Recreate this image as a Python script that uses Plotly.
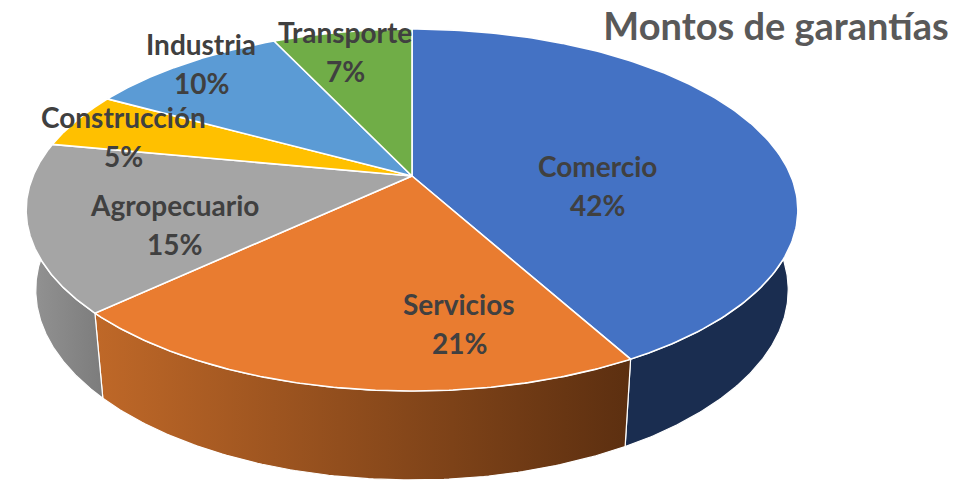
import numpy as np
import plotly.graph_objects as go

# ---- data ----
categories = ["Comercio", "Servicios", "Agropecuario", "Construcción", "Industria", "Transporte"]
shares = [42, 21, 15, 5, 10, 7]
title_text = "Montos de garantías"

# ---- styles ----
top_colors = ["#4472C4", "#E97C30", "#A5A5A5", "#FFC000", "#5B9BD5", "#70AD47"]
side_fill = {
    "Comercio": ("#1A2D50", "#1A2D50"),
    "Servicios": ("#BF6828", "#5C2F10"),
    "Agropecuario": ("#949494", "#7C7C7C"),
}
label_xy = {
    "Comercio": (597, 166), "Servicios": (459, 304), "Agropecuario": (174, 205),
    "Construcción": (123, 117), "Industria": (201, 44), "Transporte": (345, 32),
}
LINE_GAP = 39
FONT = "Lato, Carlito, Calibri, sans-serif"
CX, CY, BX, AY, K = 412, 176, 379, 174.6, -0.188


def top_ring(t):
    u, v = np.sin(t), -np.cos(t)
    d = 1 + K * v
    return CX + BX * u / d, CY + AY * v / d


def bottom_ring(t):
    x, y = top_ring(t)
    return CX + 0.975 * (x - CX), 1.05 * y + 69.4


fig = go.Figure()
fractions = np.cumsum([0] + shares) / sum(shares) * 2 * np.pi
spans = list(zip(fractions[:-1], fractions[1:]))
vis_lo, vis_hi = np.radians(90), np.radians(270)

for name, (a, b) in zip(categories, spans):
    if name not in side_fill:
        continue
    t = np.linspace(max(a, vis_lo), min(b, vis_hi), 120)
    xt, yt = top_ring(t)
    xb, yb = bottom_ring(t[::-1])
    c0, c1 = side_fill[name]
    fig.add_trace(go.Scatter(
        x=np.r_[xt, xb, xt[0]], y=np.r_[yt, yb, yt[0]],
        mode="lines", fill="toself", line=dict(color="white", width=1.2),
        fillgradient=dict(type="horizontal", colorscale=[[0, c0], [1, c1]]),
        hoverinfo="skip", showlegend=False,
    ))

for name, (a, b), col in zip(categories, spans, top_colors):
    t = np.linspace(a, b, 160)
    x, y = top_ring(t)
    fig.add_trace(go.Scatter(
        x=np.r_[CX, x, CX], y=np.r_[CY, y, CY],
        mode="lines", fill="toself", fillcolor=col,
        line=dict(color="white", width=1.6),
        name=name, hoverinfo="skip", showlegend=False,
    ))

for name, share in zip(categories, shares):
    lx, ly = label_xy[name]
    for txt, yy in ((name, ly), (f"{share}%", ly + LINE_GAP)):
        fig.add_annotation(
            x=lx, y=yy, text=txt, showarrow=False, xanchor="center", yanchor="middle",
            font=dict(family=FONT, size=28, color="#404040", weight=700),
        )

fig.update_layout(
    width=976, height=481, margin=dict(l=0, r=0, t=0, b=0),
    paper_bgcolor="white", plot_bgcolor="white", showlegend=False,
    title=dict(text=title_text, x=776 / 976, xanchor="center", xref="paper",
               y=1 - 27 / 481, yanchor="middle", yref="container",
               font=dict(family=FONT, size=38, color="#595959", weight=700)),
    xaxis=dict(range=[0, 976], visible=False, fixedrange=True),
    yaxis=dict(range=[481, 0], visible=False, fixedrange=True),
)
fig.write_html("out.html", config={"displayModeBar": False},
               post_script="document.body.style.margin='0';document.body.style.overflow='hidden';")
